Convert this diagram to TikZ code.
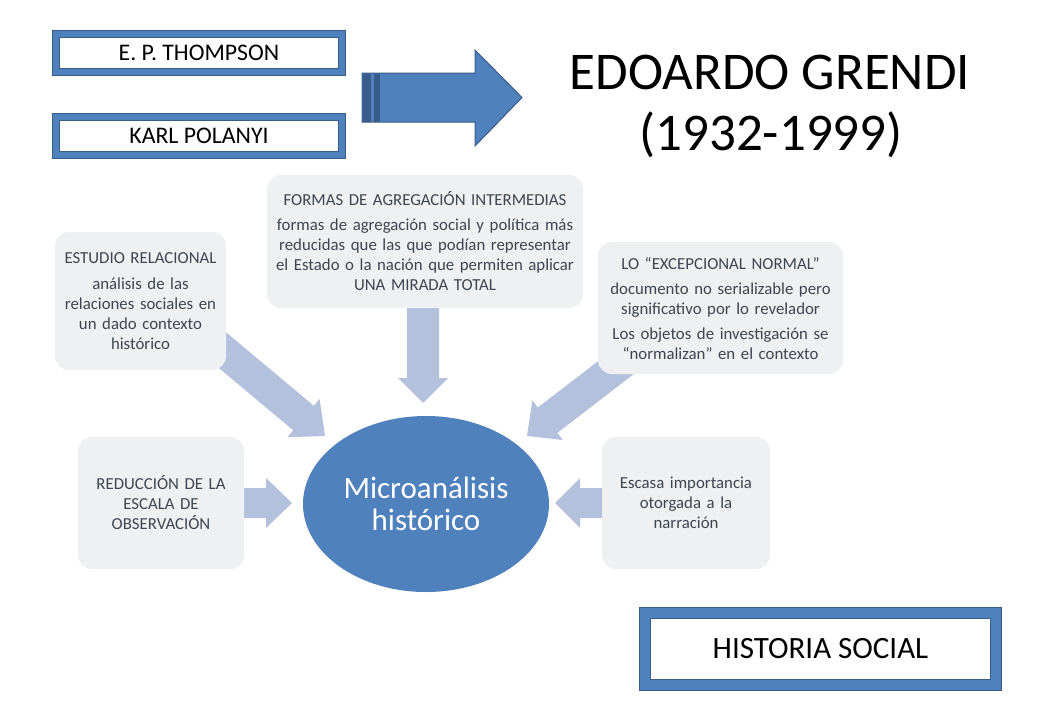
\documentclass[tikz,border=0pt]{standalone}
\usepackage{fontspec}
\setmainfont{Carlito}
\usetikzlibrary{calc,shapes.geometric}
\definecolor{bblue}{RGB}{79,129,189}
\definecolor{dblue}{RGB}{56,93,138}
\definecolor{lgray}{RGB}{239,240,242}
\definecolor{larrow}{RGB}{179,193,221}
\definecolor{gtext}{RGB}{62,68,80}
\newcommand\blockarrow[5]{%
  \path ($(#2)!#3!(#1)$) coordinate (bam);
  \fill[larrow] ($(#1)!#4!90:(bam)$) -- ($(bam)!#4!-90:(#1)$) -- ($(bam)!#5!-90:(#1)$) -- (#2)
    -- ($(bam)!#5!90:(#1)$) -- ($(bam)!#4!90:(#1)$) -- ($(#1)!#4!-90:(bam)$) -- cycle;
}
\tikzset{
  framebox/.style={draw=dblue, line width=1pt, double=bblue, double distance=6pt, fill=white,
    inner sep=0pt, font=\fontsize{23.8}{28}\selectfont, text=black},
  gbox/.style={fill=lgray, rounded corners=14pt, inner sep=0pt, align=center,
    text=gtext, font=\fontsize{16.8}{20}\selectfont},
}
\begin{document}
\begin{tikzpicture}[x=1pt,y=-1pt]
\useasboundingbox (0,0) rectangle (1040,720);
\fill[white] (0,0) rectangle (1040,720);

% framed name boxes
\node[framebox, minimum width=286pt, minimum height=38pt] (ept) at (199,53) {E. P. THOMPSON};
\node[framebox, minimum width=286pt, minimum height=38pt] (kp) at (199,135.5) {KARL POLANYI};
\node[framebox, double distance=10pt, minimum width=351pt, minimum height=72pt,
  font=\fontsize{31}{36}\selectfont] (hs) at (820.5,649) {HISTORIA SOCIAL};

% big arrow
\draw[fill=bblue, draw=dblue, line width=1pt] (362,73) -- (475,73) -- (475,50) -- (522,97.5)
  -- (475,146) -- (475,122) -- (362,122) -- cycle;
\fill[dblue] (362.5,73.5) rectangle (371,121.5);
\fill[dblue] (374,73.5) rectangle (380,121.5);

% title
\node[anchor=base, font=\fontsize{53}{64}\selectfont] (t1) at (770,89) {EDOARDO GRENDI};
\node[anchor=base, font=\fontsize{53}{64}\selectfont] (t2) at (771,150) {(1932-1999)};

% block arrows (below boxes)
\coordinate (sTop) at (423,300);  \coordinate (eTop) at (423,403);
\coordinate (sLD) at (211.5,341); \coordinate (eLD) at (325,436);
\coordinate (sRD) at (641.7,347.8); \coordinate (eRD) at (527,436);
\coordinate (sLH) at (240,503);   \coordinate (eLH) at (292,503);
\coordinate (sRH) at (608,503);   \coordinate (eRH) at (555,503);
\blockarrow{sTop}{eTop}{25pt}{16pt}{25pt}
\blockarrow{sLD}{eLD}{28pt}{16pt}{25pt}
\blockarrow{sRD}{eRD}{26pt}{16pt}{25pt}
\blockarrow{sLH}{eLH}{26pt}{15pt}{25pt}
\blockarrow{sRH}{eRH}{25pt}{15pt}{25pt}

% gray boxes
\node[gbox, minimum width=171pt, minimum height=138pt, text width=167pt] (er) at (140.5,301)
  {ESTUDIO RELACIONAL\\[6pt] análisis de las\\ relaciones sociales en\\ un dado contexto\\ histórico};
\node[gbox, minimum width=316pt, minimum height=133pt, text width=312pt] (fa) at (425,241.5)
  {FORMAS DE AGREGACIÓN INTERMEDIAS\\[5pt] formas de agregación social y política más\\ reducidas que las que podían representar\\ el Estado o la nación que permiten aplicar\\ UNA MIRADA TOTAL};
\node[gbox, minimum width=245pt, minimum height=132pt, text width=241pt] (lo) at (720.5,308)
  {LO “EXCEPCIONAL NORMAL”\\[5pt] documento no serializable pero\\ significativo por lo revelador\\[5pt] Los objetos de investigación se\\ “normalizan” en el contexto};
\node[gbox, minimum width=166pt, minimum height=132pt, text width=162pt] (re) at (161,503)
  {REDUCCIÓN DE LA\\ ESCALA DE\\ OBSERVACIÓN};
\node[gbox, minimum width=168pt, minimum height=132pt, text width=164pt] (es) at (686,503)
  {Escasa importancia\\ otorgada a la\\ narración};

% ellipse
\node[ellipse, fill=bblue, minimum width=246pt, minimum height=176pt, inner sep=0pt,
  align=center, text=white, font=\fontsize{31}{32}\selectfont] (mh) at (426,504)
  {Microanálisis\\ histórico};
\end{tikzpicture}
\end{document}
